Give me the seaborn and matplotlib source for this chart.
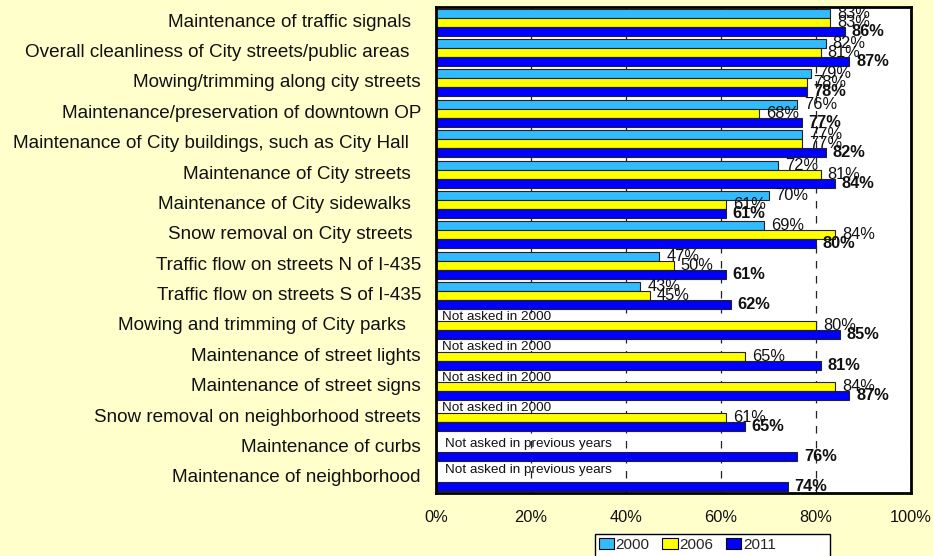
import numpy as np
import pandas as pd
import matplotlib
matplotlib.use("Agg")
import matplotlib.pyplot as plt
from matplotlib.patches import Patch, Rectangle
from matplotlib.ticker import PercentFormatter
from matplotlib.transforms import blended_transform_factory
import seaborn as sns

nan = np.nan

categories = [
    "Maintenance of traffic signals",
    "Overall cleanliness of City streets/public areas",
    "Mowing/trimming along city streets",
    "Maintenance/preservation of downtown OP",
    "Maintenance of City buildings, such as City Hall",
    "Maintenance of City streets",
    "Maintenance of City sidewalks",
    "Snow removal on City streets",
    "Traffic flow on streets N of I-435",
    "Traffic flow on streets S of I-435",
    "Mowing and trimming of City parks",
    "Maintenance of street lights",
    "Maintenance of street signs",
    "Snow removal on neighborhood streets",
    "Maintenance of curbs",
    "Maintenance of neighborhood",
]
years = ["2000", "2006", "2011"]
v2000 = [83, 82, 79, 76, 77, 72, 70, 69, 47, 43, nan, nan, nan, nan, nan, nan]
v2006 = [83, 81, 78, 68, 77, 81, 61, 84, 50, 45, 80, 65, 84, 61, nan, nan]
v2011 = [86, 87, 78, 77, 82, 84, 61, 80, 61, 62, 85, 81, 87, 65, 76, 74]
notes = {
    10: "Not asked in 2000",
    11: "Not asked in 2000",
    12: "Not asked in 2000",
    13: "Not asked in 2000",
    14: "Not asked in previous years",
    15: "Not asked in previous years",
}
xticks = [0, 20, 40, 60, 80, 100]

# ---- styling (kept separate from data) ----
colors = {"2000": "#33BBFF", "2006": "#FFFF00", "2011": "#0000FF"}
label_shift_px = {0: 10, 1: 12, 4: 12, 5: 10, 6: 10, 7: 9, 10: 15}
note_pos = {10: (1.2, -0.297), 11: (1.2, -0.297), 12: (1.2, -0.297),
            13: (1.2, -0.297), 14: (1.9, -0.10), 15: (1.9, -0.26)}

rows = []
for yr, vals in zip(years, [v2000, v2006, v2011]):
    for c, v in zip(categories, vals):
        rows.append({"category": c, "year": yr, "value": v})
df = pd.DataFrame(rows).dropna()

sns.set_theme(style="white")
plt.rcParams["font.family"] = ["Liberation Sans", "DejaVu Sans"]

W, H = 933, 556
fig = plt.figure(figsize=(W / 100, H / 100), dpi=100, facecolor="#FFFFCC")
ax = fig.add_axes([436 / W, 1 - 493 / H, (911 - 436) / W, (493 - 7) / H])
ax.set_facecolor("white")

sns.barplot(data=df, y="category", x="value", hue="year", order=categories,
            hue_order=years, palette=colors, saturation=1, orient="h",
            width=0.89, errorbar=None, edgecolor="#222222", linewidth=0.8,
            ax=ax, legend=False)

ax.set_xlim(0, 100)
ax.set_ylim(len(categories) - 0.5, -0.5)
ax.set_xticks(xticks)
ax.xaxis.set_major_formatter(PercentFormatter(xmax=100, decimals=0))
ax.set_xlabel("")
ax.set_ylabel("")
ax.tick_params(axis="x", length=0, pad=12, labelsize=11.8, colors="#111111")
ax.tick_params(axis="y", length=0, labelleft=False)
ax.xaxis.grid(True, color="#222222", linestyle=(0, (6, 6)), linewidth=0.9)
ax.yaxis.grid(False)
ax.set_axisbelow(True)
for sp in ax.spines.values():
    sp.set_visible(True)
    sp.set_color("black")
    sp.set_linewidth(2)

# category labels
trans = blended_transform_factory(ax.transAxes, ax.transData)
for i, c in enumerate(categories):
    shift = label_shift_px.get(i, 0)
    ax.annotate(c, xy=(0, i), xycoords=trans,
                xytext=(-(15 + shift) * 0.72, 0), textcoords="offset points",
                ha="right", va="center", fontsize=13.6, color="#111111",
                annotation_clip=False)

# bar value labels
for cont, yr in zip(ax.containers, years):
    labels = [f"{b.get_width():.0f}%" for b in cont]
    ax.bar_label(cont, labels=labels, padding=5, fontsize=11.8,
                 fontweight="bold" if yr == "2011" else "normal",
                 color="#111111")

# notes
for i, txt in notes.items():
    dx, dy = note_pos[i]
    ax.text(dx, i + dy, txt, ha="left", va="center", fontsize=9.7,
            color="#111111")

# legend: box drawn separately so its width matches the reference
fig.patches.append(Rectangle((595 / W, -0.01), (830 - 595) / W, 0.01 + 22 / H,
                             transform=fig.transFigure, facecolor="white",
                             edgecolor="black", linewidth=1, zorder=5))
handles = [Patch(facecolor=colors[y], edgecolor="black", linewidth=0.8)
           for y in years]
leg = fig.legend(handles, years, loc="upper left",
                 bbox_to_anchor=(597 / W, 1 - 536 / H), ncol=3,
                 fontsize=11, frameon=False,
                 borderpad=0.1, handlelength=1.0, handleheight=0.7,
                 handletextpad=0.1, columnspacing=0.85, borderaxespad=0)
leg.set_zorder(6)

fig.savefig("out.png", dpi=100, facecolor=fig.get_facecolor())
